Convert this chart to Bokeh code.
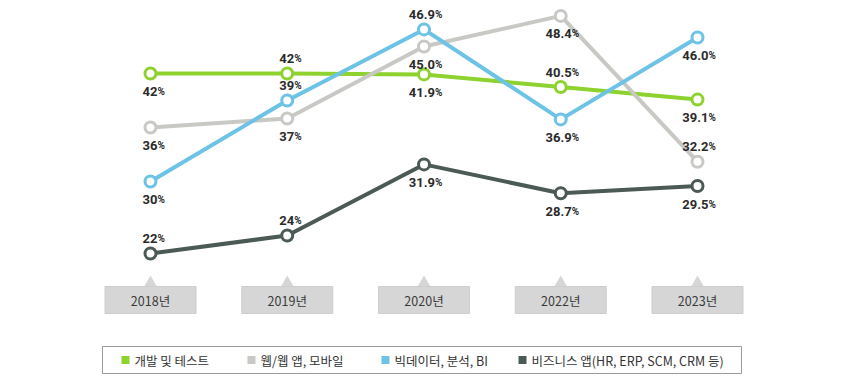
from bokeh.plotting import figure
from bokeh.models import ColumnDataSource, Range1d
from bokeh.core.properties import value
from bokeh.embed import file_html
from bokeh.resources import INLINE

# ---- data ----
years = ["2018년", "2019년", "2020년", "2022년", "2023년"]
series_names = ["개발 및 테스트", "웹/웹 앱, 모바일", "빅데이터, 분석, BI", "비즈니스 앱(HR, ERP, SCM, CRM 등)"]
dev_test = [42, 42, 41.9, 40.5, 39.1]
web_mobile = [36, 37, 45.0, 48.4, 32.2]
bigdata_bi = [30, 39, 46.9, 36.9, 46.0]
business_apps = [22, 24, 31.9, 28.7, 29.5]
label_texts = [
    ["42", "42", "41.9", "40.5", "39.1"],
    ["36", "37", "45.0", "48.4", "32.2"],
    ["30", "39", "46.9", "36.9", "46.0"],
    ["22", "24", "31.9", "28.7", "29.5"],
]
# label placement: 1 = above point, -1 = below point
label_side = [
    [-1, 1, -1, 1, -1],
    [-1, -1, -1, -1, 1],
    [-1, 1, 1, -1, -1],
    [1, 1, -1, -1, -1],
]
colors = ["#8dd22e", "#c8c8c4", "#6cc3e6", "#4b5a55"]
all_series = [dev_test, web_mobile, bigdata_bi, business_apps]

# ---- layout helpers (picture pixels -> data coords) ----
W, H = 828, 377
X0, DX = 150.0, 136.75        # px of first category, px per category
Y0, DY = 451.0, 9.0           # px of value 0, px per percent

def dx(sx):
    return (sx - X0) / DX

def dy(sy):
    return (Y0 - sy) / DY

p = figure(width=W, height=H, output_backend="svg", toolbar_location=None,
           x_range=Range1d(-X0 / DX, (W - X0) / DX),
           y_range=Range1d((Y0 - H) / DY, Y0 / DY),
           x_axis_location=None, y_axis_location=None, min_border=0)
p.grid.visible = False
p.outline_line_color = None
p.background_fill_color = "white"

idx = list(range(len(years)))
label_font = value("Roboto")

for vals, col, texts, sides in zip(all_series, colors, label_texts, label_side):
    src = ColumnDataSource(dict(x=idx, y=vals, t=texts, pct=["%"] * len(texts),
                                off=[-15 if s > 0 else 18 for s in sides],
                                xo=[3 + 2 * len(t) for t in texts]))
    p.line("x", "y", source=src, line_color=col, line_width=4)
    p.scatter("x", "y", source=src, size=11, fill_color="white",
              line_color=col, line_width=3)
    p.text("x", "y", text="t", y_offset="off", x_offset="xo", source=src, text_align="right",
           text_baseline="alphabetic", text_font=label_font, text_font_style="bold",
           text_font_size="13px", text_color="#2b2b2b")
    p.text("x", "y", text="pct", y_offset="off", x_offset="xo", source=src, text_align="left",
           text_baseline="alphabetic", text_font=label_font, text_font_style="bold",
           text_font_size="10px", text_color="#2b2b2b")

# ---- category boxes ----
cat_src = ColumnDataSource(dict(x=idx, t=years,
                                y=[dy(299.5)] * len(years),
                                ty=[dy(282.5)] * len(years)))
p.scatter("x", "ty", source=cat_src, marker="triangle", size=13,
          fill_color="#d6d6d6", line_color=None)
p.rect("x", "y", source=cat_src, width=91, height=27, width_units="screen",
       height_units="screen", fill_color="#d6d6d6", line_color="#cdcdcd")
p.text("x", "y", text="t", source=cat_src, text_align="center", text_baseline="middle",
       text_font=value("Noto Sans CJK KR"), text_font_size="12.5px", text_color="#3a3a3a")

# ---- legend ----
p.rect([dx(421.5)], [dy(359.5)], width=639, height=27, width_units="screen",
       height_units="screen", fill_color="white", line_color="#9a9a9a", line_width=1)
sq_x = [125, 251, 385, 522]
leg_src = ColumnDataSource(dict(x=[dx(s) for s in sq_x], tx=[dx(s + 9) for s in sq_x],
                                y=[dy(359.5)] * 4, c=colors, t=series_names))
p.scatter("x", "y", source=leg_src, marker="square", size=8, fill_color="c", line_color=None)
p.text("tx", "y", text="t", source=leg_src, text_align="left", text_baseline="middle",
       text_font=value("Noto Sans CJK KR"), text_font_size="12.5px", text_color="#333333")

open("out.html", "w").write(file_html(p, INLINE))
